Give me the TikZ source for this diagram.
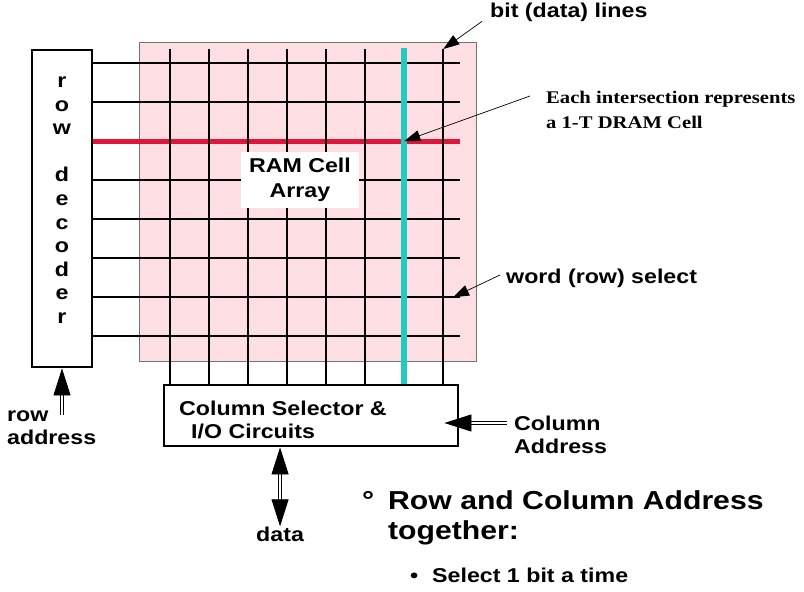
\documentclass[tikz,border=0pt]{standalone}
\usepackage{fontspec}
\setmainfont{Liberation Sans}[FakeStretch=1.16]
\newfontfamily\cellfont{Liberation Serif}[FakeStretch=1.16]
\usetikzlibrary{arrows.meta,calc}

\begin{document}
\begin{tikzpicture}[x=1pt, y=-1pt,
  box/.style={draw, line width=2.8pt, fill=white, inner sep=0pt},
  wire/.style={line width=1.8pt},
  txt/.style={inner sep=0pt, anchor=base west, align=left, font=\bfseries\fontsize{20}{22.5}\selectfont},
  pointer/.style={line width=0.7pt, -{Triangle[length=16pt, width=11pt]}},
  dbl/.style={double, double distance=2.2pt, line width=0.8pt},
  dblarrow/.style={dbl, -{Triangle[length=27pt, width=17pt]}},
  dblboth/.style={dbl, {Triangle[length=27pt, width=17pt]}-{Triangle[length=27pt, width=17pt]}}]

%─────────────
% Controls
%─────────────
\def\pitch{39.05}  % Spacing of word and bit lines
\definecolor{cellpink}{RGB}{253,222,227}
\definecolor{wordred}{RGB}{222,22,58}
\definecolor{bitcyan}{RGB}{32,204,194}

\useasboundingbox (0,0) rectangle (804,592);

%─────────────
% Cell array, decoder and column selector
%─────────────
\fill[cellpink, draw=black!55, line width=0.6pt] (139,42) rectangle (476,361);

\node[box, minimum width=60pt, minimum height=317pt] (decoder) at (62,208.5) {};
\node[box, minimum width=294pt, minimum height=61pt] (colsel) at (311,415.5) {};

% Word lines
\foreach \j in {1,...,8} {
  \pgfmathsetmacro{\yy}{63+\pitch*(\j-1)}
  \draw[wire] (decoder.east |- 0,\yy) -- (460,\yy) coordinate (word\j);
}
\draw[line width=5pt, wordred] (decoder.east |- word3) -- (word3);

% Bit lines
\foreach \i in {1,...,8} {
  \pgfmathsetmacro{\xx}{170+\pitch*(\i-1)}
  \draw[wire] (\xx,49) coordinate (bit\i) -- (\xx,0 |- colsel.north);
}
\draw[line width=6pt, bitcyan] ([yshift=1pt]bit7) -- (bit7 |- colsel.north);
\coordinate (hit) at (bit7 |- word3);

\node[fill=white, inner sep=0pt, minimum width=118pt, minimum height=56pt, align=center,
  font=\bfseries\fontsize{20}{25}\selectfont] (ram) at (300,180) {RAM Cell\\Array};

% base of a multi-line node = baseline of its last line
\node[align=center, inner sep=0pt, anchor=base, font=\bfseries\fontsize{20}{23.6}\selectfont]
  (rowletters) at (62,323.5) {r\\o\\w\\\mbox{}\\d\\e\\c\\o\\d\\e\\r};
\node[txt] (colseltext) at (179,438) {Column Selector \&\\\hspace*{12pt}I/O Circuits};

%─────────────
% Inputs and outputs
%─────────────
\node[txt] (rowaddr) at (7,444) {row\\address};
\coordinate (rowsrc) at (62,415);
\draw[dblarrow] (rowsrc) -- (decoder.south);

\node[txt] (coladdr) at (514,453) {Column\\Address};
\coordinate (colsrc) at ([xshift=-7pt,yshift=30pt]coladdr.base west);
\draw[dblarrow] (colsrc) -- ([xshift=-15pt]colsel.east |- colsrc);

\node[txt] (data) at (256,541) {data};
\draw[dblboth] (data.north |- colsel.south) -- (data.north);

%─────────────
% Labels
%─────────────
\node[txt] (bits) at (490,17) {bit (data) lines};
\draw[pointer] ([xshift=-8pt]bits.south west) -- (bit8);

\node[txt, font=\cellfont\bfseries\fontsize{17.8}{25}\selectfont] (cell) at (546,128)
  {Each intersection represents\\a 1-T DRAM Cell};
\draw[pointer] ([xshift=-16pt,yshift=32pt]cell.base west) -- (hit);

\node[txt] (wordsel) at (506,283) {word (row) select};
\draw[pointer] ([xshift=-6pt,yshift=8pt]wordsel.base west) -- ([xshift=-7pt]word7);

\node[txt, font=\bfseries\fontsize{26}{30}\selectfont] (rowcol) at (388,539)
  {\llap{°\hspace{14pt}}Row and Column Address\\together:};
\node[txt] (pick) at (432,582) {\llap{\textbullet\hspace{14pt}}Select 1 bit a time};
\end{tikzpicture}
\end{document}
